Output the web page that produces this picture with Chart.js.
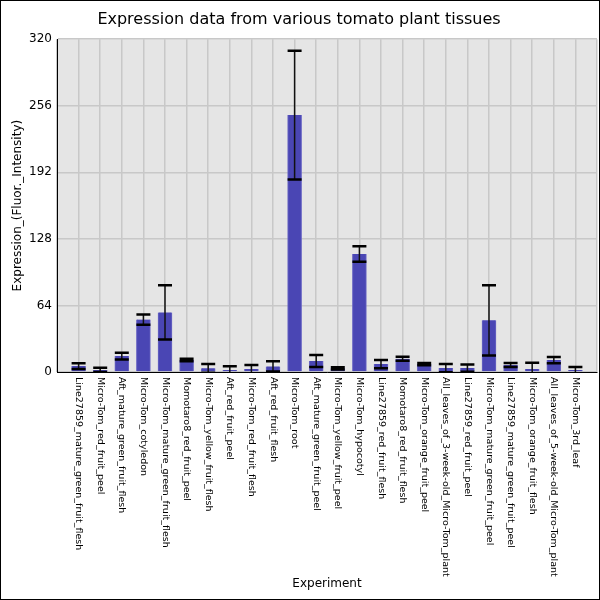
<!DOCTYPE html>
<html>
<head>
<meta charset="utf-8">
<script src="https://cdn.jsdelivr.net/npm/chart.js@4"></script>
<style>
  body { margin: 0; background: #fff; }
  #wrap { width: 600px; height: 600px; box-sizing: border-box; border: 1px solid #000; }
</style>
</head>
<body>
<div id="wrap"><canvas id="chart"></canvas></div>
<script>
const categories = [
  "Line27859_mature_green_fruit_flesh",
  "Micro-Tom_red_fruit_peel",
  "Aft_mature_green_fruit_flesh",
  "Micro-Tom_cotyledon",
  "Micro-Tom_mature_green_fruit_flesh",
  "Momotaro8_red_fruit_peel",
  "Micro-Tom_yellow_fruit_flesh",
  "Aft_red_fruit_peel",
  "Micro-Tom_red_fruit_flesh",
  "Aft_red_fruit_flesh",
  "Micro-Tom_root",
  "Aft_mature_green_fruit_peel",
  "Micro-Tom_yellow_fruit_peel",
  "Micro-Tom_hypocotyl",
  "Line27859_red_fruit_flesh",
  "Momotaro8_red_fruit_flesh",
  "Micro-Tom_orange_fruit_peel",
  "All_leaves_of_3-week-old_Micro-Tom_plant",
  "Line27859_red_fruit_peel",
  "Micro-Tom_mature_green_fruit_peel",
  "Line27859_mature_green_fruit_peel",
  "Micro-Tom_orange_fruit_flesh",
  "All_leaves_of_5-week-old_Micro-Tom_plant",
  "Micro-Tom_3rd_leaf",
];
const means = [5.7, 2, 15.3, 50.4, 57.3, 11.5, 3.5, 2, 2.8, 5.4, 247, 10.5,
  3.5, 113.5, 7.6, 12.7, 7.6, 3.8, 3.8, 49.7, 6.7, 2.9, 11.5, 1.9];
const errors = [2.8, 2, 3.3, 5, 26, 1.2, 4.3, 3.5, 4, 5, 62, 5.8,
  1, 7.5, 4, 2, 1, 4, 3.5, 33.8, 2, 6, 3, 3];
const yTicks = [0, 64, 128, 192, 256, 320];

const font = "DejaVu Sans";

// error bars + rotated category labels, all placed through the scales
const extras = {
  id: "extras",
  afterDatasetsDraw(chart) {
    const { ctx, chartArea, scales } = chart;
    const x = scales.x, y = scales.y;
    ctx.save();
    ctx.beginPath();
    ctx.rect(chartArea.left, chartArea.top, chartArea.right - chartArea.left, chartArea.bottom - chartArea.top);
    ctx.clip();
    means.forEach((m, i) => {
      const px = x.getPixelForValue(i);
      const hi = y.getPixelForValue(m + errors[i]);
      const lo = y.getPixelForValue(m - errors[i]);
      ctx.strokeStyle = "#111";
      ctx.lineWidth = 1.5;
      ctx.beginPath();
      ctx.moveTo(px, hi);
      ctx.lineTo(px, lo);
      ctx.stroke();
      ctx.strokeStyle = "#000";
      ctx.lineWidth = 2.5;
      ctx.beginPath();
      ctx.moveTo(px - 7, hi);
      ctx.lineTo(px + 7, hi);
      ctx.moveTo(px - 7, lo);
      ctx.lineTo(px + 7, lo);
      ctx.stroke();
    });
    ctx.restore();
  },
  afterDraw(chart) {
    const { ctx, chartArea, scales } = chart;
    ctx.save();
    ctx.fillStyle = "#000";
    ctx.font = "9.5px '" + font + "'";
    ctx.textAlign = "left";
    ctx.textBaseline = "middle";
    categories.forEach((c, i) => {
      const px = scales.x.getPixelForValue(i);
      ctx.save();
      ctx.translate(px, chartArea.bottom + 5);
      ctx.rotate(Math.PI / 2);
      ctx.fillText(c, 0, 0);
      ctx.restore();
    });
    ctx.restore();
  },
};

new Chart(document.getElementById("chart"), {
  type: "bar",
  data: {
    datasets: [
      {
        data: means.map((v, i) => ({ x: i, y: v })),
        backgroundColor: "#4a46b4",
        borderColor: "#6a66c4",
        borderWidth: { left: 1, right: 1, top: 0, bottom: 0 },
        barThickness: 14,
      },
    ],
  },
  options: {
    responsive: true,
    maintainAspectRatio: false,
    animation: false,
    layout: { padding: { right: 2 } },
    plugins: {
      legend: { display: false },
      tooltip: { enabled: false },
      title: {
        display: true,
        text: "Expression data from various tomato plant tissues",
        color: "#000",
        font: { family: font, size: 16, weight: "normal" },
        padding: { top: 9, bottom: 10 },
      },
    },
    scales: {
      x: {
        type: "linear",
        offset: false,
        min: -1,
        max: 24,
        ticks: { display: false, stepSize: 1 },
        grid: { color: "#c8c8c8", lineWidth: 1.5, drawTicks: false, offset: false },
        border: { color: "#000", width: 1 },
        title: {
          display: true,
          text: "Experiment",
          color: "#000",
          font: { family: font, size: 12 },
          padding: { top: 0, bottom: 8 },
        },
        afterFit: (s) => { s.height = 227; },
      },
      y: {
        min: 0,
        max: 320,
        afterBuildTicks: (s) => { s.ticks = yTicks.map((v) => ({ value: v })); },
        ticks: { color: "#000", font: { family: font, size: 12 }, padding: 5 },
        grid: { color: "#c8c8c8", lineWidth: 1.5, drawTicks: false },
        border: { color: "#000", width: 1 },
        title: {
          display: true,
          text: "Expression_(Fluor._Intensity)",
          color: "#000",
          font: { family: font, size: 12 },
          padding: { top: 10, bottom: 0 },
        },
        afterFit: (s) => { s.width = 56; },
      },
    },
  },
  plugins: [
    {
      id: "plotBg",
      beforeDraw(chart) {
        const { ctx, chartArea } = chart;
        ctx.save();
        ctx.fillStyle = "#e5e5e5";
        ctx.fillRect(chartArea.left, chartArea.top, chartArea.right - chartArea.left, chartArea.bottom - chartArea.top);
        ctx.restore();
      },
    },
    extras,
  ],
});
</script>
</body>
</html>
